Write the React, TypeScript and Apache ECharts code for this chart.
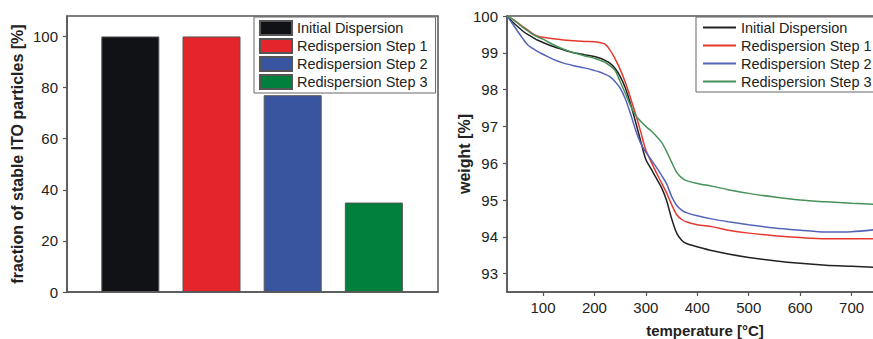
import React, { useEffect, useRef } from "react";
import * as echarts from "echarts";

// ---- Left panel: fraction of stable ITO particles ----
const sampleNames = [
  "Initial Dispersion",
  "Redispersion Step 1",
  "Redispersion Step 2",
  "Redispersion Step 3",
];
const stableFraction = [100, 100, 77, 35];
const barColors = ["#111216", "#e4262c", "#3a55a0", "#007f3d"];
const fractionTicks = [0, 20, 40, 60, 80, 100];

// ---- Right panel: TGA weight curves ----
const temperature = [
  30, 40, 50, 60, 70, 80, 90, 100, 120, 140, 160, 180, 200, 210, 220, 230, 240,
  250, 260, 270, 280, 290, 300, 310, 320, 330, 340, 350, 360, 370, 380, 400,
  430, 460, 500, 550, 600, 650, 700, 750,
];
const weightInitial = [
  100, 99.85, 99.72, 99.6, 99.5, 99.42, 99.34, 99.28, 99.17, 99.08, 99.0,
  98.95, 98.9, 98.86, 98.8, 98.72, 98.58, 98.36, 98.05, 97.62, 97.12, 96.6,
  96.1, 95.85, 95.6, 95.35, 95.0, 94.5, 94.1, 93.9, 93.81, 93.73, 93.62, 93.53,
  93.44, 93.35, 93.28, 93.23, 93.2, 93.17,
];
const weightStep1 = [
  100, 99.92, 99.82, 99.72, 99.62, 99.52, 99.45, 99.42, 99.38, 99.35, 99.33,
  99.31, 99.3, 99.28, 99.24, 99.08, 98.84, 98.55, 98.2, 97.78, 97.34, 96.85,
  96.35, 96.05, 95.75, 95.48, 95.2, 94.88, 94.6, 94.47, 94.4, 94.33, 94.27,
  94.18, 94.1, 94.03, 93.98, 93.95, 93.95, 93.95,
];
const weightStep2 = [
  100, 99.8, 99.6, 99.4, 99.22, 99.12, 99.03, 98.96, 98.82, 98.72, 98.65,
  98.59, 98.52, 98.48, 98.42, 98.35, 98.22, 98.04, 97.75, 97.35, 96.9, 96.54,
  96.3, 96.1, 95.9, 95.68, 95.45, 95.1, 94.85, 94.72, 94.65, 94.57, 94.48,
  94.41, 94.33, 94.24, 94.18, 94.13, 94.14, 94.2,
];
const weightStep3 = [
  100, 99.92, 99.82, 99.7, 99.6, 99.5, 99.43, 99.37, 99.22, 99.1, 99.0, 98.92,
  98.85, 98.8, 98.75, 98.65, 98.52, 98.22, 97.9, 97.57, 97.3, 97.14, 97.0,
  96.88, 96.74, 96.58, 96.33, 96.03, 95.75, 95.6, 95.52, 95.45, 95.37, 95.28,
  95.18, 95.08, 95.0, 94.95, 94.91, 94.88,
];
const lineColors = ["#222222", "#e5392f", "#5563b8", "#47915a"];
const weightTicks = [93, 94, 95, 96, 97, 98, 99, 100];
const temperatureTicks = [100, 200, 300, 400, 500, 600, 700];

const FONT = "'Liberation Sans', Arial, Helvetica, sans-serif";
const FRAME = "#555";

function barOption(): echarts.EChartsOption {
  return {
    animation: false,
    textStyle: { fontFamily: FONT },
    grid: {
      left: 67,
      top: 16,
      width: 371,
      height: 276,
      outerBoundsMode: "none",
      show: true,
      borderColor: FRAME,
      borderWidth: 1.5,
      backgroundColor: "#fff",
    } as any,
    legend: {
      orient: "vertical",
      left: 254,
      top: 17,
      padding: [3, 8, 3, 5],
      itemWidth: 32,
      itemHeight: 14,
      itemGap: 2,
      backgroundColor: "#fff",
      borderColor: "#666",
      borderWidth: 1,
      borderRadius: 0,
      icon: "rect",
      selectedMode: false,
      data: sampleNames,
      textStyle: {
        fontFamily: FONT,
        fontSize: 14.5,
        lineHeight: 14,
        color: "#222",
      },
    },
    xAxis: {
      type: "value",
      min: 0.22,
      max: 4.79,
      axisLine: { show: true, lineStyle: { color: FRAME, width: 1.5 } },
      axisTick: { show: false },
      axisLabel: { show: false },
      splitLine: { show: false },
    },
    yAxis: {
      type: "value",
      min: 0,
      max: 108,
      name: "fraction of stable ITO particles [%]",
      nameLocation: "middle",
      nameGap: 42,
      nameMoveOverlap: false,
      nameTextStyle: {
        fontFamily: FONT,
        fontSize: 16,
        fontWeight: "bold",
        color: "#222",
      },
      axisLine: { show: true, lineStyle: { color: FRAME, width: 1.5 } },
      axisTick: {
        show: true,
        inside: false,
        length: 4,
        customValues: fractionTicks,
        lineStyle: { color: FRAME, width: 1.2 },
      },
      axisLabel: {
        customValues: fractionTicks,
        margin: 9,
        fontFamily: FONT,
        fontSize: 15,
        color: "#222",
      },
      splitLine: { show: false },
    } as any,
    series: sampleNames.map((name, i) => ({
      name,
      type: "bar",
      stack: "fraction",
      barWidth: 58,
      itemStyle: {
        color: barColors[i],
        borderColor: "#555",
        borderWidth: 1,
      },
      data: [[i + 1, stableFraction[i]]],
    })),
  };
}

function lineOption(): echarts.EChartsOption {
  const curves = [weightInitial, weightStep1, weightStep2, weightStep3];
  return {
    animation: false,
    textStyle: { fontFamily: FONT },
    grid: {
      left: 62,
      top: 16,
      width: 396,
      height: 276,
      outerBoundsMode: "none",
      show: true,
      borderColor: FRAME,
      borderWidth: 1.5,
      backgroundColor: "#fff",
    } as any,
    legend: {
      orient: "vertical",
      left: 251,
      top: 17,
      padding: [3, 8, 3, 7],
      itemWidth: 33,
      itemHeight: 2,
      itemGap: 3,
      backgroundColor: "#fff",
      borderColor: "#666",
      borderWidth: 1,
      icon: "rect",
      selectedMode: false,
      data: sampleNames,
      textStyle: {
        fontFamily: FONT,
        fontSize: 14.5,
        lineHeight: 14,
        color: "#222",
      },
    },
    xAxis: {
      type: "value",
      min: 30,
      max: 800,
      name: "temperature [°C]",
      nameLocation: "middle",
      nameGap: 31,
      nameMoveOverlap: false,
      nameTextStyle: {
        fontFamily: FONT,
        fontSize: 15,
        fontWeight: "bold",
        color: "#222",
      },
      axisLine: { show: true, lineStyle: { color: FRAME, width: 1.5 } },
      axisTick: {
        show: true,
        inside: false,
        length: 4,
        customValues: temperatureTicks,
        lineStyle: { color: FRAME, width: 1.2 },
      },
      axisLabel: {
        customValues: temperatureTicks,
        margin: 8,
        fontFamily: FONT,
        fontSize: 15,
        color: "#222",
      },
      splitLine: { show: false },
    } as any,
    yAxis: {
      type: "value",
      min: 92.5,
      max: 100,
      name: "weight [%]",
      nameLocation: "middle",
      nameGap: 35,
      nameMoveOverlap: false,
      nameTextStyle: {
        fontFamily: FONT,
        fontSize: 16,
        fontWeight: "bold",
        color: "#222",
      },
      axisLine: { show: true, lineStyle: { color: FRAME, width: 1.5 } },
      axisTick: {
        show: true,
        inside: false,
        length: 4,
        customValues: weightTicks,
        lineStyle: { color: FRAME, width: 1.2 },
      },
      axisLabel: {
        customValues: weightTicks,
        margin: 9,
        fontFamily: FONT,
        fontSize: 15,
        color: "#222",
      },
      splitLine: { show: false },
    } as any,
    series: sampleNames.map((name, i) => ({
      name,
      type: "line",
      smooth: 0.3,
      symbol: "none",
      color: lineColors[i],
      lineStyle: { color: lineColors[i], width: 1.5 },
      data: temperature.map((t, k) => [t, curves[i][k]]),
    })),
  };
}

function Chart({
  option,
  style,
}: {
  option: echarts.EChartsOption;
  style: React.CSSProperties;
}) {
  const ref = useRef<HTMLDivElement>(null);
  useEffect(() => {
    if (!ref.current) return;
    const chart = echarts.init(ref.current, undefined, { renderer: "svg" });
    chart.setOption(option);
    return () => chart.dispose();
  }, [option]);
  return <div ref={ref} style={style} />;
}

const leftOpt = barOption();
const rightOpt = lineOption();

export default function App() {
  return (
    <div
      style={{
        position: "absolute",
        left: 0,
        top: 0,
        width: 873,
        height: 339,
        background: "#fff",
        overflow: "hidden",
      }}
    >
      <Chart
        option={leftOpt}
        style={{ position: "absolute", left: 0, top: 0, width: 445, height: 339 }}
      />
      <Chart
        option={rightOpt}
        style={{ position: "absolute", left: 445, top: 0, width: 428, height: 339 }}
      />
    </div>
  );
}
